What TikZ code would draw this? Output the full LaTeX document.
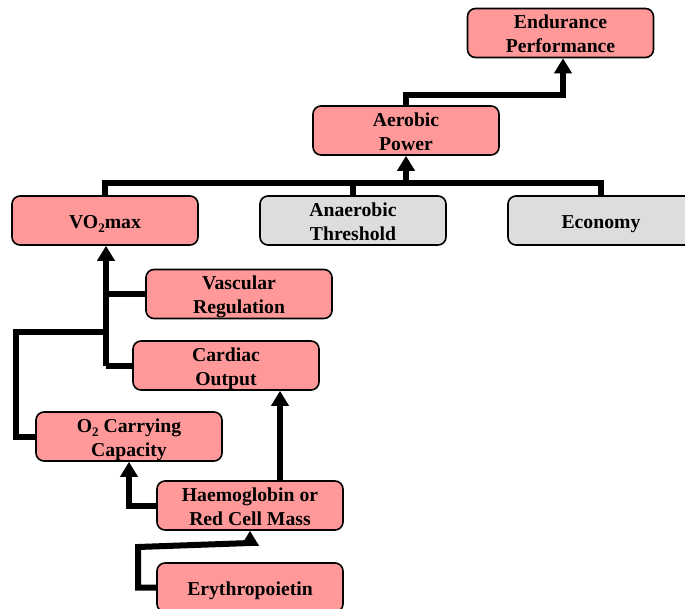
\documentclass[tikz,border=0pt]{standalone}
\usepackage{fontspec}
\setmainfont{Liberation Serif}
\usetikzlibrary{arrows.meta}
\definecolor{boxpink}{RGB}{255,153,153}
\definecolor{boxgrey}{RGB}{221,221,221}
% box label: centred rows on a 24pt grid, set a little below the middle
\newcommand{\boxlabel}[1]{\vbox{\kern2.8pt\hbox{\begin{tabular}{@{}c@{}}#1\end{tabular}}\kern-2.8pt}}
\newcommand{\subtwo}{\raisebox{-4.5pt}{\fontsize{13}{13}\selectfont 2}}
\begin{document}
\begin{tikzpicture}[x=1pt,y=-1pt,
  box/.style={draw=black, line width=1.6pt, rounded corners=8pt, fill=boxpink,
    minimum width=186pt, minimum height=49pt, inner sep=0pt,
    font=\fontsize{19.7}{24}\selectfont\bfseries},
  greybox/.style={box, fill=boxgrey},
  conn/.style={draw=black, line width=6pt, line join=miter},
  arrow/.style={conn, -{Triangle[width=17pt,length=15pt]}}]
\clip (0,0) rectangle (685,608);
\useasboundingbox (0,0) rectangle (685,608);

% boxes
\node[box] (endur) at (560.5,33) {\boxlabel{Endurance\\Performance}};
\node[box] (aerobic) at (406,130.5) {\boxlabel{Aerobic\\Power}};
\node[box] (vo2) at (105,220.5) {\boxlabel{VO\subtwo max}};
\node[greybox] (anaer) at (353,220.5) {\boxlabel{Anaerobic\\Threshold}};
\node[greybox] (econ) at (601,220.5) {\boxlabel{Economy}};
\node[box] (vasc) at (239,294) {\boxlabel{Vascular\\Regulation}};
\node[box] (cardiac) at (226,365.5) {\boxlabel{Cardiac\\Output}};
\node[box] (o2) at (129,436.5) {\boxlabel{O\subtwo\ Carrying\\Capacity}};
\node[box] (hb) at (250,505.5) {\boxlabel{Haemoglobin or\\Red Cell Mass}};
\node[box] (ery) at (250,587.5) {\boxlabel{Erythropoietin}};

% aerobic power to endurance performance
\coordinate (j1) at (563,95);
\draw[arrow] (aerobic.north) |- (j1) -- (j1 |- endur.south);

% bus joining the three determinants
\coordinate (bus) at (105,183);
\draw[conn] (vo2.north) -- (vo2.north |- bus) -- (econ.north |- bus) -- (econ.north);
\draw[conn] (anaer.north) -- (anaer.north |- bus);
\draw[arrow] (aerobic.south |- bus) -- (aerobic.south);

% inputs to VO2max
\coordinate (col) at (106,365.5);
\draw[arrow] (col) -- (col |- vo2.south);
\draw[conn] (vasc.west) -- (vasc.west -| col);
\draw[conn] (cardiac.west) -- (col);
\coordinate (loop) at (16,332);
\draw[conn] (o2.west) -- (o2.west -| loop) -- (loop) -- (loop -| col);

% haemoglobin outputs
\draw[arrow] (hb.west) -| (o2.south);
\coordinate (hbtop) at (280,481);
\draw[arrow] (hbtop) -- (hbtop |- cardiac.south);

% erythropoietin to haemoglobin
\coordinate (e1) at (138,547);
\coordinate (e2) at (250,543);
\draw[arrow] (ery.west) -| (e1) -- (e2) -- (hb.south);
\end{tikzpicture}
\end{document}
